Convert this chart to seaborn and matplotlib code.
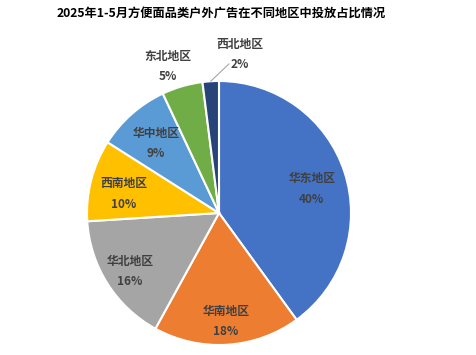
import numpy as np
import matplotlib
matplotlib.use("Agg")
import matplotlib.pyplot as plt
import seaborn as sns

# data
regions = ["华东地区", "华南地区", "华北地区", "西南地区", "华中地区", "东北地区", "西北地区"]
shares = [40, 18, 16, 10, 9, 5, 2]
colors = ["#4472C4", "#ED7D31", "#A5A5A5", "#FFC000", "#5B9BD5", "#70AD47", "#264478"]
title = "2025年1-5月方便面品类户外广告在不同地区中投放占比情况"

sns.set_theme(style="white")
plt.rcParams['font.family'] = ['Noto Sans CJK SC', 'DejaVu Sans']

W, H = 477, 355
fig = plt.figure(figsize=(W / 100, H / 100), dpi=100)
fig.patch.set_facecolor("white")

# pie box in pixels: center (219, 213), radius 132
cx, cy, R = 219, 213, 132
ax = fig.add_axes([(cx - R) / W, (H - cy - R) / H, 2 * R / W, 2 * R / H])
wedges, _ = ax.pie(shares, colors=colors, startangle=90, counterclock=False,
                   wedgeprops=dict(edgecolor="white", linewidth=1.5))
ax.set_xlim(-1, 1)
ax.set_ylim(-1, 1)
ax.set_aspect("equal")
ax.axis("off")

# inner label distances / angle nudges per slice, outer ones placed by hand
dist = [0.73, 0.81, 0.8, 0.74, 0.72]
nudge = [-2.5, 0, 0, 2, 0]
for i, w in enumerate(wedges):
    mid = np.deg2rad((w.theta1 + w.theta2) / 2)
    txt = f"{regions[i]}\n{shares[i]}%"
    if i < len(dist):
        a = mid + np.deg2rad(nudge[i])
        x, y = dist[i] * np.cos(a), dist[i] * np.sin(a) - 0.015
    elif regions[i] == "东北地区":
        x, y = -0.39, 1.11
    else:
        x, y = 0.16, 1.2
        ax.plot([np.cos(mid), 0.076], [np.sin(mid), 1.13], color="#A6A6A6",
                lw=0.8, clip_on=False)
    ax.text(x, y, txt, ha="center", va="center", fontsize=8.5, fontweight="bold",
            color="#404040", linespacing=1.75, clip_on=False)

fig.text(57 / W, 1 - 14 / H, title, ha="left", va="center", fontsize=8.8,
         fontweight="bold", color="black")

fig.savefig("out.png", dpi=100)
